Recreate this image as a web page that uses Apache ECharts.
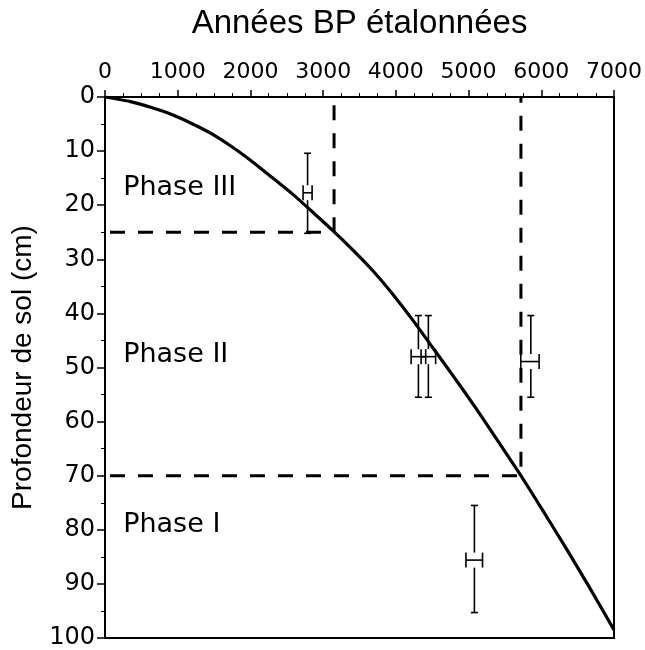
<!DOCTYPE html>
<html>
<head>
<meta charset="utf-8">
<script src="https://cdn.jsdelivr.net/npm/echarts@6/dist/echarts.min.js"></script>
<style>html,body{margin:0;padding:0;background:#fff;}#chart{width:645px;height:650px;}</style>
</head>
<body>
<div id="chart"></div>
<script>
// Age-depth curve (calibrated years BP vs soil depth, cm)
const curveAge   = [0, 350, 650, 900, 1170, 1440, 1750, 2030, 2300, 2580, 2850, 3134, 3410, 3690, 3960, 4230, 4500, 4780, 5100, 5400, 5720, 6020, 6340, 6660, 7000];
const curveDepth = [0, 0.85, 2.0, 3.15, 4.75, 6.6, 9.25, 12.0, 14.9, 17.95, 21.2, 24.7, 28.3, 32.2, 36.5, 41.2, 46.2, 51.4, 57.5, 63.5, 70.0, 76.4, 83.4, 90.6, 98.5];

// Dated samples with error bars
const dateAge     = [2786, 4310, 4447, 5856, 5080];
const dateDepth   = [17.7, 48.0, 48.0, 48.9, 85.6];
const dateAgeLow  = [2724, 4210, 4347, 5718, 4964];
const dateAgeHigh = [2848, 4410, 4547, 5970, 5192];
const dateDepthTop    = [10.4, 40.4, 40.4, 40.4, 75.5];
const dateDepthBottom = [25.2, 55.5, 55.5, 55.5, 95.3];

// Phase boundaries (depth, age on curve)
const boundaryDepth = [25, 70];
const boundaryAge   = [3150, 5720];

// Phase labels
const phaseNames = ['Phase III', 'Phase II', 'Phase I'];
const phaseAge   = [250, 250, 250];
const phaseDepth = [16.8, 47.6, 79.2];

// Axis ticks
const xTicks = [0, 1000, 2000, 3000, 4000, 5000, 6000, 7000];
const yTicks = [0, 10, 20, 30, 40, 50, 60, 70, 80, 90, 100];

const xTitle = 'Années BP étalonnées';
const yTitle = 'Profondeur de sol (cm)';

const chart = echarts.init(document.getElementById('chart'), null, {renderer: 'canvas'});

const curveData = curveAge.map((a, i) => [a, curveDepth[i]]);
const dateData = dateAge.map((a, i) => [a, dateDepth[i], dateAgeLow[i], dateAgeHigh[i], dateDepthTop[i], dateDepthBottom[i]]);
const phaseData = phaseNames.map((n, i) => [phaseAge[i], phaseDepth[i], n]);

const dashed = {color: '#000', width: 3, type: [15, 13], dashOffset: -5};
const boundarySeries = boundaryDepth.map((d, i) => ({
  type: 'line',
  data: [[xTicks[0], d], [boundaryAge[i], d], [boundaryAge[i], yTicks[0]]],
  symbol: 'none',
  lineStyle: dashed,
  silent: true,
  z: 2
}));

const titleFont = 'Liberation Sans, Arial, Helvetica, sans-serif';
const tickFont = 'DejaVu Sans, sans-serif';

chart.setOption({
  animation: false,
  backgroundColor: '#fff',
  grid: {left: 105, right: 30, top: 97, bottom: 12, show: true, borderColor: '#000', borderWidth: 2, backgroundColor: 'transparent'},
  xAxis: {
    type: 'value', position: 'top',
    min: xTicks[0], max: xTicks[xTicks.length - 1], interval: 1000,
    name: xTitle, nameLocation: 'middle', nameGap: 57,
    nameTextStyle: {fontFamily: titleFont, fontSize: 33, color: '#000'},
    axisLine: {show: true, lineStyle: {color: '#000', width: 2}},
    axisTick: {show: true, inside: false, length: 7, lineStyle: {color: '#000', width: 1.5}},
    minorTick: {show: true, splitNumber: 4, length: 4, lineStyle: {color: '#000', width: 1}},
    axisLabel: {fontFamily: tickFont, fontSize: 22, color: '#000', margin: 14, formatter: v => String(v)},
    splitLine: {show: false}
  },
  yAxis: {
    type: 'value', inverse: true,
    min: yTicks[0], max: yTicks[yTicks.length - 1], interval: 10,
    name: yTitle, nameLocation: 'middle', nameGap: 68, nameRotate: 90,
    nameTextStyle: {fontFamily: titleFont, fontSize: 28, color: '#000'},
    axisLine: {show: true, lineStyle: {color: '#000', width: 2}},
    axisTick: {show: true, inside: false, length: 8, lineStyle: {color: '#000', width: 1.5}},
    minorTick: {show: true, splitNumber: 2, length: 4, lineStyle: {color: '#000', width: 1}},
    axisLabel: {fontFamily: tickFont, fontSize: 24, color: '#000', margin: 10, formatter: v => String(v)},
    splitLine: {show: false}
  },
  series: [
    ...boundarySeries,
    {
      type: 'line', data: curveData, smooth: 0.2, symbol: 'none',
      lineStyle: {color: '#000', width: 3.2}, z: 3, silent: true
    },
    {
      type: 'custom', data: dateData, z: 4, silent: true,
      renderItem: function (params, api) {
        const x = api.value(0), y = api.value(1);
        const c = api.coord([x, y]);
        const pl = api.coord([api.value(2), y]);
        const ph = api.coord([api.value(3), y]);
        const pt = api.coord([x, api.value(4)]);
        const pb = api.coord([x, api.value(5)]);
        const h = 7.5, w = 3.5;
        const st = {stroke: '#000', lineWidth: 1.6};
        const ln = (x1, y1, x2, y2) => ({type: 'line', shape: {x1, y1, x2, y2}, style: st});
        return {type: 'group', children: [
          ln(c[0], pt[1], c[0], c[1] - h),
          ln(c[0], c[1] + h, c[0], pb[1]),
          ln(c[0] - w, pt[1], c[0] + w, pt[1]),
          ln(c[0] - w, pb[1], c[0] + w, pb[1]),
          ln(pl[0], c[1], ph[0], c[1]),
          ln(pl[0], c[1] - h, pl[0], c[1] + h),
          ln(ph[0], c[1] - h, ph[0], c[1] + h)
        ]};
      }
    },
    {
      type: 'custom', data: phaseData, z: 5, silent: true,
      renderItem: function (params, api) {
        const p = api.coord([api.value(0), api.value(1)]);
        return {type: 'text', x: p[0], y: p[1], style: {
          text: phaseData[params.dataIndex][2], fill: '#000',
          font: '27px "DejaVu Sans", sans-serif', textAlign: 'left', textVerticalAlign: 'middle'
        }};
      }
    }
  ]
});
</script>
</body>
</html>
